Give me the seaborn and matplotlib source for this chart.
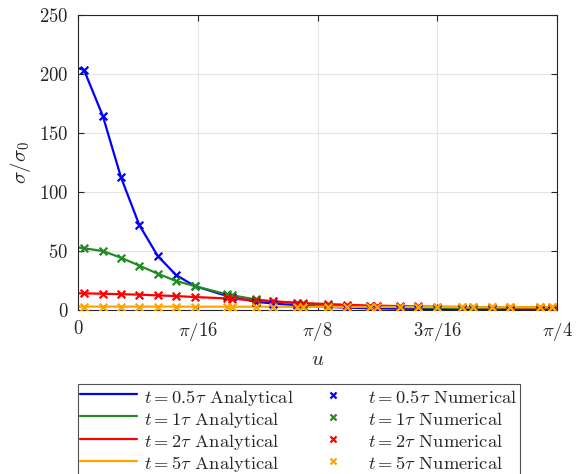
import numpy as np
import pandas as pd
import matplotlib
matplotlib.use("Agg")
import matplotlib.pyplot as plt
import seaborn as sns

# u positions as fraction of pi/4
u_frac = [0.0, 0.0125, 0.0516, 0.0898, 0.1280, 0.1664, 0.2046, 0.2436, 0.3104, 0.3209,
          0.3706, 0.4077, 0.4572, 0.4697, 0.5219, 0.5610, 0.6096, 0.6236, 0.6722,
          0.7098, 0.7489, 0.8010, 0.8246, 0.8637, 0.9019, 0.9645, 0.9889, 1.0]

s_05 = [205, 203.4, 164.7, 112.4, 72, 45.8, 29.7, 20.3, 12, 11, 7, 5.5, 4, 3.6, 2.6, 2,
        1.5, 1.4, 1.1, 0.9, 0.8, 0.6, 0.5, 0.5, 0.4, 0.3, 0.3, 0.3]
s_1 = [53, 52.3, 50, 44.3, 37.6, 30.8, 24.6, 20.3, 13.3, 12.5, 9, 7.4, 5.6, 5.2, 4.3, 3.7,
       3.1, 3.0, 2.6, 2.3, 2.1, 1.9, 1.8, 1.7, 1.6, 1.5, 1.5, 1.5]
s_2 = [14.2, 14.1, 13.8, 13.4, 13.0, 12.4, 11.8, 11.0, 9.8, 9.5, 8.2, 7.3, 6.2, 5.9, 5.0,
       4.4, 3.8, 3.7, 3.3, 3.0, 2.8, 2.6, 2.5, 2.4, 2.3, 2.2, 2.2, 2.2]
s_5 = [2.9, 2.9, 2.9, 2.9, 2.9, 2.9, 2.9, 2.8, 2.8, 2.8, 2.8, 2.7, 2.7, 2.7, 2.6, 2.6,
       2.6, 2.6, 2.5, 2.5, 2.5, 2.4, 2.4, 2.4, 2.4, 2.3, 2.3, 2.3]

series_labels = ["0.5", "1", "2", "5"]
series_vals = [s_05, s_1, s_2, s_5]
colors = ["#0000ff", "#228b22", "#ff0000", "#ffa500"]

xtick_vals = [0, 1/4, 1/2, 3/4, 1]
xtick_labels = [r"$0$", r"$\pi/16$", r"$\pi/8$", r"$3\pi/16$", r"$\pi/4$"]
ytick_vals = [0, 50, 100, 150, 200, 250]

sns.set_style("white")
plt.rcParams["font.family"] = ["cmr10"]
plt.rcParams["mathtext.fontset"] = "cm"
plt.rcParams["axes.formatter.use_mathtext"] = True
plt.rcParams["axes.unicode_minus"] = False

u = np.array(u_frac) * np.pi / 4
rows = []
for lab, vals in zip(series_labels, series_vals):
    for uu, v in zip(u, vals):
        rows.append({"u": uu, "sigma": v, "t": lab})
df = pd.DataFrame(rows)

fig = plt.figure(figsize=(5.87, 4.74), dpi=100)
ax = fig.add_axes([78/587, 1 - 310/474, (557-78)/587, (310-15)/474])

for lab, col in zip(series_labels, colors):
    d = df[df["t"] == lab]
    sns.lineplot(data=d, x="u", y="sigma", color=col, linewidth=1.6, ax=ax,
                 label=rf"$t={lab}\tau$ Analytical", zorder=2)
for lab, col in zip(series_labels, colors):
    d = df[(df["t"] == lab)].iloc[1:-1]
    sns.scatterplot(data=d, x="u", y="sigma", color=col, marker="x", s=30,
                    linewidth=1.6, ax=ax, label=rf"$t={lab}\tau$ Numerical", zorder=3)

ax.set_xlim(0, np.pi/4)
ax.set_ylim(0, 250)
ax.set_xticks(np.array(xtick_vals) * np.pi / 4)
ax.set_xticklabels(xtick_labels)
ax.set_yticks(ytick_vals)
ax.tick_params(direction="in", length=4, width=0.8, labelsize=13.5, pad=7,
               top=True, right=True, bottom=True, left=True, colors="#262626",
               labelcolor="#262626")
ax.grid(True, color="#e3e3e3", linewidth=0.8)
ax.set_axisbelow(True)
for sp in ax.spines.values():
    sp.set_visible(True)
    sp.set_color("#262626")
    sp.set_linewidth(0.8)
ax.set_xlabel(r"$u$", fontsize=15, color="#262626", labelpad=6)
ax.set_ylabel(r"$\sigma/\sigma_0$", fontsize=15, color="#262626", labelpad=4)

handles, labels = ax.get_legend_handles_labels()
if ax.get_legend():
    ax.get_legend().remove()
leg = fig.legend(handles, labels, ncol=2, loc="upper left",
                 bbox_to_anchor=(78/587, 1 - 384/474), bbox_transform=fig.transFigure,
                 fontsize=13.3, frameon=True, fancybox=False, edgecolor="#262626",
                 handlelength=3.1, handletextpad=0.35, labelspacing=0.0,
                 handleheight=1.45, markerscale=0.8,
                 columnspacing=0.6, borderpad=0.1, borderaxespad=0)
leg.get_frame().set_linewidth(0.8)

fig.savefig("out.png", dpi=100)
